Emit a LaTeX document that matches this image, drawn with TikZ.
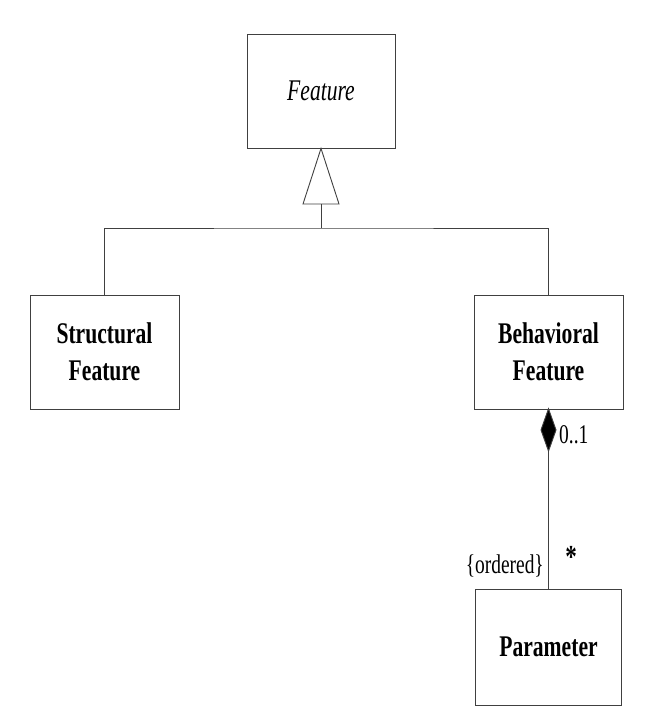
\documentclass[tikz,border=0pt]{standalone}
\usepackage{fontspec}
\newfontfamily\umlfont{Liberation Serif}[FakeStretch=0.72]
\usetikzlibrary{arrows.meta}
\begin{document}
\begin{tikzpicture}[x=1pt,y=-1pt,
  umlline/.style={draw=black!75,line width=0.9pt},
  classbox/.style={umlline,fill=white,minimum width=149pt,minimum height=114pt,inner sep=0pt,align=center,font=\umlfont\fontsize{30}{37}\selectfont\bfseries},
  lbl/.style={inner sep=0pt,font=\umlfont\fontsize{27}{30}\selectfont}]
\useasboundingbox (0,0) rectangle (650,708);
\node[classbox,font=\umlfont\fontsize{30}{37}\selectfont\itshape,minimum width=148pt] (feat) at (321,91) {Feature};
\node[classbox] (struct) at (104.5,352) {Structural\\Feature};
\node[classbox] (behav) at (548.5,352) {Behavioral\\Feature};
\node[classbox,minimum width=146pt,minimum height=116pt] (param) at (548.5,647) {Parameter};
\coordinate (trib) at (321,204);
\coordinate (j) at (321,228);
\draw[umlline,fill=white] (feat.south) -- ([xshift=-18pt]trib) -- ([xshift=18pt]trib) -- cycle;
\draw[umlline] (trib) -- (j);
\draw[umlline] (struct.north) |- (j) -| (behav.north);
\draw[umlline,{Diamond[length=45pt,width=16pt,fill=black]}-] ([yshift=2pt]behav.south) -- (param.north);
\node[lbl,anchor=west] (mult1) at (559,435) {0..1};
\node[lbl,anchor=east] (ord) at (544,566) {\{ordered\}};
\node[lbl,font=\umlfont\fontsize{32}{32}\selectfont\bfseries] (mult2) at (571,557) {*};
\end{tikzpicture}
\end{document}
